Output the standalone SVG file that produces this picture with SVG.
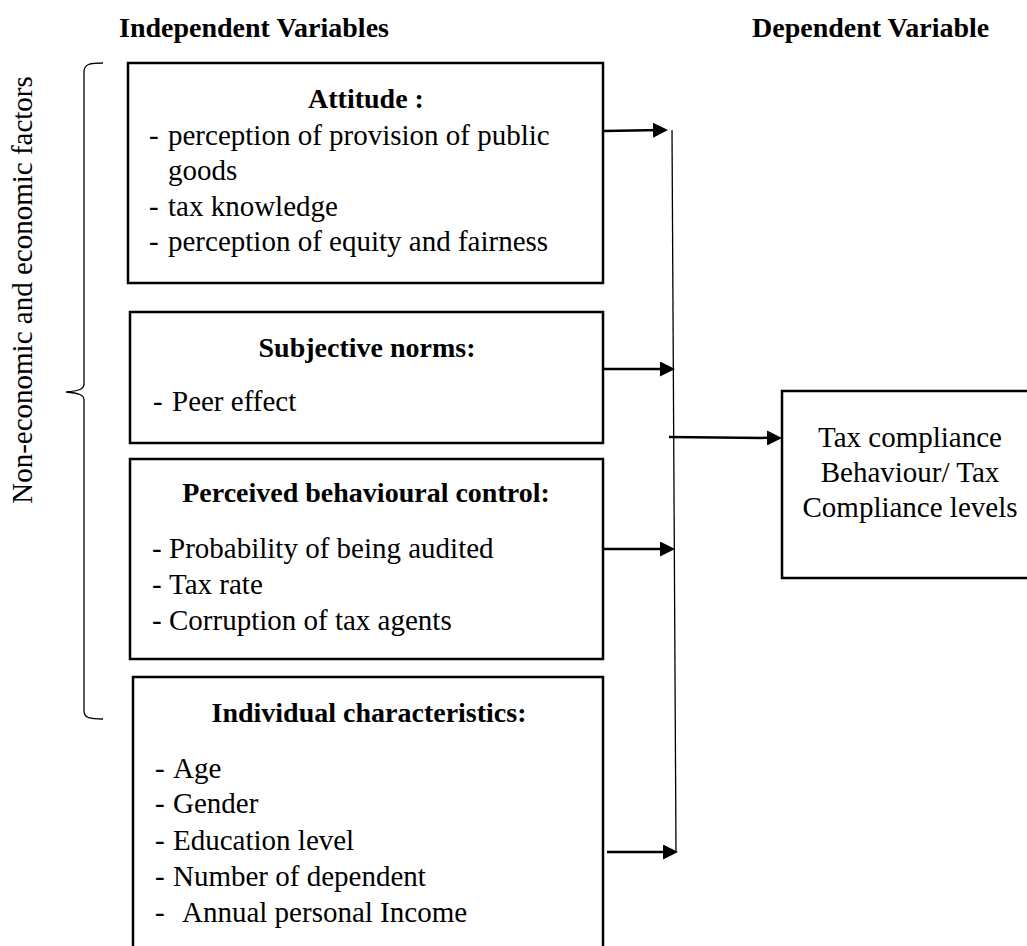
<svg xmlns="http://www.w3.org/2000/svg" width="1027" height="946" viewBox="0 0 1027 946">
  <style>
    .box { fill: #fff; stroke: #000; stroke-width: 2.5; }
    .head { font-family: "Liberation Serif", "Times New Roman", serif; font-size: 28px; font-weight: bold; fill: #000; }
    .body { font-family: "Liberation Serif", "Times New Roman", serif; font-size: 29px; fill: #000; }
    .mid { text-anchor: middle; }
    .conn { fill: none; stroke: #000; stroke-width: 2.5; }
    .thin { fill: none; stroke: #000; stroke-width: 1.3; }
  </style>
  <defs>
    <marker id="arrow" viewBox="0 0 15 15" markerWidth="15" markerHeight="15" markerUnits="userSpaceOnUse" refX="9" refY="7.5" orient="auto">
      <path d="M0,0 L15,7.5 L0,15 z" fill="#000"/>
    </marker>
  </defs>
  <rect width="1027" height="946" fill="#fff"/>

  <g id="titles">
    <text class="head" x="119" y="37">Independent Variables</text>
    <text class="head" x="752" y="37">Dependent Variable</text>
  </g>

  <g id="factor-brace">
    <path class="thin" d="M103,63 C90,63 84,64 84,72 L84,384 C84,389 79,391 66,392 C79,393 84,395 84,400 L84,711 C84,718 90,719 103,719"/>
    <text class="body mid" transform="translate(32,290) rotate(-90)">Non-economic and economic factors</text>
  </g>

  <g id="attitude">
    <rect class="box" x="128" y="63" width="475" height="220"/>
    <text class="head mid" x="366" y="108">Attitude :</text>
    <text class="body" x="149" y="145">-</text>
    <text class="body" x="168" y="145">perception of provision of public</text>
    <text class="body" x="168" y="180">goods</text>
    <text class="body" x="149" y="216">-</text>
    <text class="body" x="168" y="216">tax knowledge</text>
    <text class="body" x="149" y="251">-</text>
    <text class="body" x="168" y="251">perception of equity and fairness</text>
  </g>

  <g id="subjective-norms">
    <rect class="box" x="130" y="312" width="473" height="131"/>
    <text class="head mid" x="367" y="357">Subjective norms:</text>
    <text class="body" x="153" y="411">-</text>
    <text class="body" x="172" y="411">Peer effect</text>
  </g>

  <g id="perceived-control">
    <rect class="box" x="130" y="459" width="473" height="200"/>
    <text class="head mid" x="366" y="502">Perceived behavioural control:</text>
    <text class="body" x="152" y="558">-</text>
    <text class="body" x="169" y="558">Probability of being audited</text>
    <text class="body" x="152" y="594">-</text>
    <text class="body" x="169" y="594">Tax rate</text>
    <text class="body" x="152" y="630">-</text>
    <text class="body" x="169" y="630">Corruption of tax agents</text>
  </g>

  <g id="individual">
    <rect class="box" x="133" y="677" width="470" height="290"/>
    <text class="head mid" x="369" y="722">Individual characteristics:</text>
    <text class="body" x="155" y="778">-</text>
    <text class="body" x="173" y="778">Age</text>
    <text class="body" x="155" y="813">-</text>
    <text class="body" x="173" y="813">Gender</text>
    <text class="body" x="155" y="850">-</text>
    <text class="body" x="173" y="850">Education level</text>
    <text class="body" x="155" y="886">-</text>
    <text class="body" x="173" y="886">Number of dependent</text>
    <text class="body" x="155" y="922">-</text>
    <text class="body" x="182" y="922">Annual personal Income</text>
  </g>

  <g id="dependent">
    <rect class="box" x="782" y="391" width="260" height="187"/>
    <text class="body mid" x="910" y="447">Tax compliance</text>
    <text class="body mid" x="910" y="482">Behaviour/ Tax</text>
    <text class="body mid" x="910" y="517">Compliance levels</text>
  </g>

  <g id="connectors">
    <path class="thin" d="M672,130 L676,852"/>
    <path class="conn" d="M603,131 L662,130" marker-end="url(#arrow)"/>
    <path class="conn" d="M604,369 L669,369" marker-end="url(#arrow)"/>
    <path class="conn" d="M604,549 L669,549" marker-end="url(#arrow)"/>
    <path class="conn" d="M607,852 L672,852" marker-end="url(#arrow)"/>
    <path class="conn" d="M669,437 L776,438" marker-end="url(#arrow)"/>
  </g>
</svg>
